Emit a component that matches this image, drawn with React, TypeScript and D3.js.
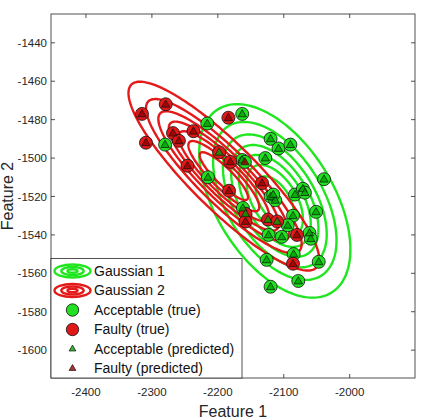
import React from "react";
import * as d3 from "d3";

const W = 422;
const H = 420;
const plot = { left: 51, right: 415, top: 14, bottom: 378 };

const xTicks = [-2400, -2300, -2200, -2100, -2000];
const yTicks = [-1600, -1580, -1560, -1540, -1520, -1500, -1480, -1460, -1440];

// acceptable parts: true class, with predicted class per part
const acceptF1 = [-2163, -2216, -2280, -2120, -2108, -2090, -2163, -2159, -2128, -2215, -2039, -2120, -2113, -2116, -2083, -2071, -2068, -2162, -2086, -2051, -2094, -2123, -2103, -2061, -2059, -2085, -2126, -2047, -2078, -2120];
const acceptF2 = [-1477, -1482, -1493, -1490, -1495, -1493, -1501, -1502, -1500, -1510, -1511, -1520, -1522, -1519, -1519, -1516, -1518, -1526, -1530, -1528, -1535, -1540, -1541, -1539, -1542, -1550, -1553, -1554, -1564, -1567];
const acceptPred = ["A", "A", "A", "A", "A", "A", "A", "F", "A", "A", "A", "A", "A", "A", "A", "A", "A", "A", "A", "A", "A", "A", "A", "A", "A", "A", "A", "A", "A", "A"];

// faulty parts
const faultyF1 = [-2315, -2279, -2309, -2268, -2259, -2237, -2246, -2184, -2198, -2181, -2183, -2133, -2158, -2158, -2124, -2110, -2080, -2086];
const faultyF2 = [-1477, -1472, -1492, -1487, -1491, -1486, -1504, -1479, -1497, -1502, -1517, -1513, -1529, -1533, -1532, -1533, -1540, -1555];
const faultyPred = ["F", "F", "F", "F", "F", "F", "F", "F", "A", "F", "F", "F", "A", "F", "A", "A", "F", "F"];

// fitted gaussians: mean, std devs, correlation
const gauss1 = { mx: -2113.6, my: -1522.3, sx: 56.2, sy: 24.7, rho: -0.5 };
const gauss2 = { mx: -2190.9, my: -1509.4, sx: 70.9, sy: 24.1, rho: -0.88 };
// contour levels as fraction of peak density
const levels = [0.125, 0.25, 0.375, 0.5, 0.625, 0.75, 0.875];

const legendLabels = ["Gaussian 1", "Gaussian 2", "Acceptable (true)", "Faulty (true)", "Acceptable (predicted)", "Faulty (predicted)"];

const GREEN = "#22e022";
const RED = "#e01818";
const LINE_GREEN = "#1fe61f";
const LINE_RED = "#e41a1a";
const TRI_GREEN = "rgba(0,160,0,0.8)";
const TRI_RED = "rgba(150,0,0,0.8)";
const AX = "#262626";
const FONT = "'Liberation Sans', Arial, Helvetica, sans-serif";

const x = d3.scaleLinear().domain([-2453, -1901]).range([plot.left, plot.right]);
const y = d3.scaleLinear().domain([-1614.5, -1425]).range([plot.bottom, plot.top]);

type G = typeof gauss1;

function ellipsePts(g: G, k: number): [number, number][] {
  const ts = d3.range(0, 2 * Math.PI, Math.PI / 90);
  const s = Math.sqrt(1 - g.rho * g.rho);
  return ts.map((t) => [
    g.mx + k * g.sx * Math.cos(t),
    g.my + k * g.sy * (g.rho * Math.cos(t) + s * Math.sin(t)),
  ]);
}

const line = d3
  .line<[number, number]>()
  .x((d) => x(d[0]))
  .y((d) => y(d[1]))
  .curve(d3.curveLinearClosed);

const tri = d3.symbol().type(d3.symbolTriangle).size(30)()!;
const triSmall = d3.symbol().type(d3.symbolTriangle).size(20)()!;

function Contours({ g, color }: { g: G; color: string }) {
  return (
    <g fill="none" stroke={color} strokeWidth={2.4}>
      {levels.map((lv) => (
        <path key={lv} d={line(ellipsePts(g, Math.sqrt(-2 * Math.log(lv))))!} />
      ))}
    </g>
  );
}

export default function App() {
  const accept = acceptF1.map((v, i) => ({ f1: v, f2: acceptF2[i], pred: acceptPred[i] }));
  const faulty = faultyF1.map((v, i) => ({ f1: v, f2: faultyF2[i], pred: faultyPred[i] }));
  const all = [...accept, ...faulty];

  const rowY = (i: number) => 271 + i * 19.5;
  const legX = 72.5;

  return (
    <svg width={W} height={H} style={{ position: "absolute", left: 0, top: 0, background: "#fff" }} fontFamily={FONT}>
      <rect x={plot.left} y={plot.top} width={plot.right - plot.left} height={plot.bottom - plot.top} fill="#fff" />
      <defs>
        <clipPath id="pa">
          <rect x={plot.left} y={plot.top} width={plot.right - plot.left} height={plot.bottom - plot.top} />
        </clipPath>
      </defs>

      <g clipPath="url(#pa)">
        <Contours g={gauss1} color={LINE_GREEN} />
        <Contours g={gauss2} color={LINE_RED} />

        {accept.map((d, i) => (
          <circle key={"a" + i} cx={x(d.f1)} cy={y(d.f2)} r={6.5} fill={GREEN} stroke="#111" strokeWidth={0.8} />
        ))}
        {faulty.map((d, i) => (
          <circle key={"f" + i} cx={x(d.f1)} cy={y(d.f2)} r={6.5} fill={RED} stroke="#111" strokeWidth={0.8} />
        ))}
        {all.map((d, i) => (
          <path
            key={"t" + i}
            d={tri}
            transform={`translate(${x(d.f1)},${y(d.f2) + 0.5})`}
            fill={d.pred === "A" ? TRI_GREEN : TRI_RED}
            stroke="#111"
            strokeWidth={0.7}
          />
        ))}
      </g>

      {/* axes box with inward ticks on all sides */}
      <g stroke={AX} strokeWidth={0.8}>
        {xTicks.map((t) => (
          <g key={"xt" + t}>
            <line x1={x(t)} x2={x(t)} y1={plot.bottom} y2={plot.bottom - 4} />
            <line x1={x(t)} x2={x(t)} y1={plot.top} y2={plot.top + 4} />
          </g>
        ))}
        {yTicks.map((t) => (
          <g key={"yt" + t}>
            <line x1={plot.left} x2={plot.left + 4} y1={y(t)} y2={y(t)} />
            <line x1={plot.right} x2={plot.right - 4} y1={y(t)} y2={y(t)} />
          </g>
        ))}
        <rect x={plot.left} y={plot.top} width={plot.right - plot.left} height={plot.bottom - plot.top} fill="none" />
      </g>

      <g fill={AX} fontSize={11.5}>
        {xTicks.map((t) => (
          <text key={"xl" + t} x={x(t)} y={plot.bottom + 18} textAnchor="middle">
            {t}
          </text>
        ))}
        {yTicks.map((t) => (
          <text key={"yl" + t} x={plot.left - 4} y={y(t)} dy="0.35em" textAnchor="end">
            {t}
          </text>
        ))}
      </g>

      <text x={(plot.left + plot.right) / 2} y={417} textAnchor="middle" fontSize={16} fill={AX}>
        Feature 1
      </text>
      <text transform="translate(13,196) rotate(-90)" textAnchor="middle" fontSize={16} fill={AX}>
        Feature 2
      </text>

      {/* legend */}
      <g>
        <rect x={plot.left} y={258.5} width={191} height={plot.bottom - 258.5} fill="#fff" stroke={AX} strokeWidth={0.8} />
        {[LINE_GREEN, LINE_RED].map((c, i) => (
          <g key={"lg" + i} fill="none" stroke={c} strokeWidth={2.4}>
            {[1, 0.62, 0.28].map((s) => (
              <ellipse key={s} cx={legX} cy={rowY(i)} rx={18 * s} ry={6.5 * s} />
            ))}
          </g>
        ))}
        <circle cx={legX} cy={rowY(2)} r={6.2} fill={GREEN} stroke="#111" strokeWidth={0.8} />
        <circle cx={legX} cy={rowY(3)} r={6.2} fill={RED} stroke="#111" strokeWidth={0.8} />
        <path d={triSmall} transform={`translate(${legX},${rowY(4)})`} fill={TRI_GREEN} stroke="#111" strokeWidth={0.7} />
        <path d={triSmall} transform={`translate(${legX},${rowY(5)})`} fill={TRI_RED} stroke="#111" strokeWidth={0.7} />
        {legendLabels.map((l, i) => (
          <text key={l} x={94} y={rowY(i)} dy="0.35em" fontSize={14} fill="#111">
            {l}
          </text>
        ))}
      </g>
    </svg>
  );
}
